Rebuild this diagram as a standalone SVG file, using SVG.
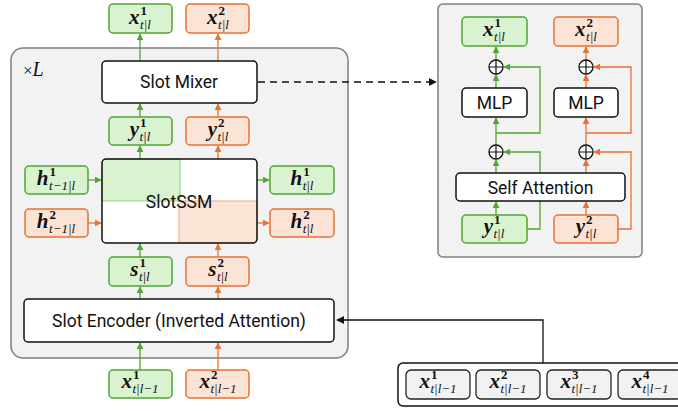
<svg xmlns="http://www.w3.org/2000/svg" width="678" height="411" viewBox="0 0 678 411">
<defs>
<style>
.g{fill:#d9f2d0;stroke:#4ea72e;stroke-width:1.5}
.o{fill:#fbe3d6;stroke:#e97132;stroke-width:1.5}
.blk{fill:#fff;stroke:#111;stroke-width:1.5}
.lbl{font-family:Roboto,"Liberation Sans",sans-serif;font-size:17.5px;fill:#111;text-anchor:middle}
.m{font-family:"Liberation Serif",serif;fill:#111;text-anchor:middle}
.mv{font-style:italic;font-weight:bold;font-size:21px}
.sup{font-size:13px;font-weight:bold}
.sub{font-size:13px;font-style:italic}
.cg{fill:none;stroke:#4ea72e;stroke-width:1.3}
.co{fill:none;stroke:#e97132;stroke-width:1.3}
.cb{fill:none;stroke:#111;stroke-width:1.3}
.pl{fill:#fff;stroke:#111;stroke-width:1.3}
.in{fill:#f2f2f2;stroke:#222;stroke-width:1.3}
</style>
<marker id="ag" viewBox="0 0 10 10" refX="9" refY="5" markerWidth="7" markerHeight="7" markerUnits="userSpaceOnUse" orient="auto"><path d="M0,0L10,5L0,10z" fill="#4ea72e"/></marker>
<marker id="ao" viewBox="0 0 10 10" refX="9" refY="5" markerWidth="7" markerHeight="7" markerUnits="userSpaceOnUse" orient="auto"><path d="M0,0L10,5L0,10z" fill="#e97132"/></marker>
<marker id="ab" viewBox="0 0 10 10" refX="9" refY="5" markerWidth="8" markerHeight="8" markerUnits="userSpaceOnUse" orient="auto"><path d="M0,0L10,5L0,10z" fill="#111"/></marker>
</defs>

<g id="layer-container">
<rect x="11" y="48" width="337" height="310" rx="12" fill="#f2f2f2" stroke="#7f7f7f" stroke-width="1.5"/>
<text x="23" y="76" font-family="Liberation Serif,serif" font-size="20" fill="#111"><tspan font-size="17">×</tspan><tspan font-style="italic">L</tspan></text>
</g>

<g id="attn-panel">
<rect x="438" y="4" width="204" height="253" rx="5" fill="#f2f2f2" stroke="#7f7f7f" stroke-width="1.5"/>
</g>

<g id="connectors">
<path class="cg" d="M140,61V34" marker-end="url(#ag)"/>
<path class="co" d="M218,61V34" marker-end="url(#ao)"/>
<path class="cg" d="M140,117V104" marker-end="url(#ag)"/>
<path class="co" d="M218,117V104" marker-end="url(#ao)"/>
<path class="cg" d="M140,159V146" marker-end="url(#ag)"/>
<path class="co" d="M218,159V146" marker-end="url(#ao)"/>
<path class="cg" d="M140,257V244" marker-end="url(#ag)"/>
<path class="co" d="M218,257V244" marker-end="url(#ao)"/>
<path class="cg" d="M140,299V287" marker-end="url(#ag)"/>
<path class="co" d="M218,299V287" marker-end="url(#ao)"/>
<path class="cg" d="M140,370V343" marker-end="url(#ag)"/>
<path class="co" d="M218,370V343" marker-end="url(#ao)"/>
<path class="cg" d="M88,180H101" marker-end="url(#ag)"/>
<path class="co" d="M88,223H101" marker-end="url(#ao)"/>
<path class="cg" d="M257,180H269" marker-end="url(#ag)"/>
<path class="co" d="M257,223H269" marker-end="url(#ao)"/>
<path class="cb" d="M258,82H436" stroke-dasharray="7,5" stroke-width="2" marker-end="url(#ab)"/>
<path class="cb" d="M543,363V320H337" marker-end="url(#ab)"/>
<path class="cg" d="M496,215V202" marker-end="url(#ag)"/>
<path class="cg" d="M496,173V160" marker-end="url(#ag)"/>
<path class="cg" d="M496,145V118" marker-end="url(#ag)"/>
<path class="cg" d="M496,88V75" marker-end="url(#ag)"/>
<path class="cg" d="M496,60V47" marker-end="url(#ag)"/>
<path class="cg" d="M527,229H540V152H504" marker-end="url(#ag)"/>
<path class="cg" d="M496,133H540V67H504" marker-end="url(#ag)"/>
<path class="co" d="M586,215V202" marker-end="url(#ao)"/>
<path class="co" d="M586,173V160" marker-end="url(#ao)"/>
<path class="co" d="M586,145V118" marker-end="url(#ao)"/>
<path class="co" d="M586,88V75" marker-end="url(#ao)"/>
<path class="co" d="M586,60V47" marker-end="url(#ao)"/>
<path class="co" d="M618,229H631V152H594" marker-end="url(#ao)"/>
<path class="co" d="M586,133H631V67H594" marker-end="url(#ao)"/>
</g>

<g id="x1-out"><rect class="g" x="109" y="4" width="63" height="29" rx="4"/>
<text class="m" x="140" y="24"><tspan class="mv">x</tspan><tspan class="sup" dx="1" dy="-9">1</tspan><tspan class="sub" dx="-7" dy="14">t|l</tspan></text></g>
<g id="x2-out"><rect class="o" x="186" y="4" width="63" height="29" rx="4"/>
<text class="m" x="218" y="24"><tspan class="mv">x</tspan><tspan class="sup" dx="1" dy="-9">2</tspan><tspan class="sub" dx="-7" dy="14">t|l</tspan></text></g>

<g id="slot-mixer"><rect class="blk" x="102" y="61" width="155" height="42" rx="4"/>
<text class="lbl" x="179" y="88">Slot Mixer</text></g>

<g id="y1"><rect class="g" x="109" y="117" width="63" height="28" rx="4"/>
<text class="m" x="140" y="136"><tspan class="mv">y</tspan><tspan class="sup" dx="1" dy="-9">1</tspan><tspan class="sub" dx="-7" dy="14">t|l</tspan></text></g>
<g id="y2"><rect class="o" x="186" y="117" width="63" height="28" rx="4"/>
<text class="m" x="218" y="136"><tspan class="mv">y</tspan><tspan class="sup" dx="1" dy="-9">2</tspan><tspan class="sub" dx="-7" dy="14">t|l</tspan></text></g>

<g id="slotssm">
<rect x="102" y="159" width="155" height="84" rx="4" fill="#fff"/>
<path d="M106,159H180V201H102V163Q102,159 106,159z" fill="#d9f2d0" stroke="#8fd27a" stroke-width="1"/>
<path d="M179,201H257V239Q257,243 253,243H179z" fill="#fbe3d6" stroke="#f2a67e" stroke-width="1"/>
<rect x="102" y="159" width="155" height="84" rx="4" fill="none" stroke="#111" stroke-width="1.5"/>
<text class="lbl" x="179" y="208">SlotSSM</text></g>

<g id="h1-prev"><rect class="g" x="25" y="166" width="63" height="28" rx="4"/>
<text class="m" x="56" y="185"><tspan class="mv">h</tspan><tspan class="sup" dx="1" dy="-9">1</tspan><tspan class="sub" dx="-7" dy="14">t−1|l</tspan></text></g>
<g id="h2-prev"><rect class="o" x="25" y="209" width="63" height="28" rx="4"/>
<text class="m" x="56" y="228"><tspan class="mv">h</tspan><tspan class="sup" dx="1" dy="-9">2</tspan><tspan class="sub" dx="-7" dy="14">t−1|l</tspan></text></g>
<g id="h1-next"><rect class="g" x="270" y="166" width="64" height="28" rx="4"/>
<text class="m" x="302" y="185"><tspan class="mv">h</tspan><tspan class="sup" dx="1" dy="-9">1</tspan><tspan class="sub" dx="-7" dy="14">t|l</tspan></text></g>
<g id="h2-next"><rect class="o" x="270" y="209" width="64" height="28" rx="4"/>
<text class="m" x="302" y="228"><tspan class="mv">h</tspan><tspan class="sup" dx="1" dy="-9">2</tspan><tspan class="sub" dx="-7" dy="14">t|l</tspan></text></g>

<g id="s1"><rect class="g" x="109" y="257" width="63" height="29" rx="4"/>
<text class="m" x="140" y="276"><tspan class="mv">s</tspan><tspan class="sup" dx="1" dy="-9">1</tspan><tspan class="sub" dx="-7" dy="14">t|l</tspan></text></g>
<g id="s2"><rect class="o" x="186" y="257" width="63" height="29" rx="4"/>
<text class="m" x="218" y="276"><tspan class="mv">s</tspan><tspan class="sup" dx="1" dy="-9">2</tspan><tspan class="sub" dx="-7" dy="14">t|l</tspan></text></g>

<g id="slot-encoder"><rect class="blk" x="24" y="299" width="310" height="43" rx="4"/>
<text class="lbl" x="179" y="327">Slot Encoder (Inverted Attention)</text></g>

<g id="x1-in"><rect class="g" x="109" y="370" width="63" height="28" rx="4"/>
<text class="m" x="140" y="388"><tspan class="mv">x</tspan><tspan class="sup" dx="1" dy="-9">1</tspan><tspan class="sub" dx="-7" dy="14">t|l−1</tspan></text></g>
<g id="x2-in"><rect class="o" x="186" y="370" width="63" height="28" rx="4"/>
<text class="m" x="218" y="388"><tspan class="mv">x</tspan><tspan class="sup" dx="1" dy="-9">2</tspan><tspan class="sub" dx="-7" dy="14">t|l−1</tspan></text></g>

<g id="input-set">
<rect x="398" y="363" width="292" height="43" rx="5" fill="#fff" stroke="#111" stroke-width="1.5"/>
<rect class="in" x="406" y="370" width="64" height="29" rx="5"/>
<text class="m" x="438" y="388"><tspan class="mv">x</tspan><tspan class="sup" dx="1" dy="-9">1</tspan><tspan class="sub" dx="-7" dy="14">t|l−1</tspan></text>
<rect class="in" x="476" y="370" width="64" height="29" rx="5"/>
<text class="m" x="508" y="388"><tspan class="mv">x</tspan><tspan class="sup" dx="1" dy="-9">2</tspan><tspan class="sub" dx="-7" dy="14">t|l−1</tspan></text>
<rect class="in" x="547" y="370" width="64" height="29" rx="5"/>
<text class="m" x="579" y="388"><tspan class="mv">x</tspan><tspan class="sup" dx="1" dy="-9">3</tspan><tspan class="sub" dx="-7" dy="14">t|l−1</tspan></text>
<rect class="in" x="618" y="370" width="64" height="29" rx="5"/>
<text class="m" x="650" y="388"><tspan class="mv">x</tspan><tspan class="sup" dx="1" dy="-9">4</tspan><tspan class="sub" dx="-7" dy="14">t|l−1</tspan></text>
</g>

<g id="p-x1"><rect class="g" x="462" y="17" width="65" height="29" rx="4"/>
<text class="m" x="494" y="36"><tspan class="mv">x</tspan><tspan class="sup" dx="1" dy="-9">1</tspan><tspan class="sub" dx="-7" dy="14">t|l</tspan></text></g>
<g id="p-x2"><rect class="o" x="554" y="17" width="64" height="29" rx="4"/>
<text class="m" x="586" y="36"><tspan class="mv">x</tspan><tspan class="sup" dx="1" dy="-9">2</tspan><tspan class="sub" dx="-7" dy="14">t|l</tspan></text></g>

<g id="p-plus1a"><circle class="pl" cx="496" cy="67" r="7"/><path d="M489,67H503M496,60V74" stroke="#111" stroke-width="1.2"/></g>
<g id="p-plus2a"><circle class="pl" cx="586" cy="67" r="7"/><path d="M579,67H593M586,60V74" stroke="#111" stroke-width="1.2"/></g>

<g id="p-mlp1"><rect class="blk" x="462" y="88" width="65" height="29" rx="4"/>
<text class="lbl" x="494.5" y="109">MLP</text></g>
<g id="p-mlp2"><rect class="blk" x="554" y="88" width="64" height="29" rx="4"/>
<text class="lbl" x="586" y="109">MLP</text></g>

<g id="p-plus1b"><circle class="pl" cx="496" cy="152" r="7"/><path d="M489,152H503M496,145V159" stroke="#111" stroke-width="1.2"/></g>
<g id="p-plus2b"><circle class="pl" cx="586" cy="152" r="7"/><path d="M579,152H593M586,145V159" stroke="#111" stroke-width="1.2"/></g>

<g id="p-self-attn"><rect class="blk" x="456" y="173" width="169" height="28" rx="4"/>
<text class="lbl" x="540.5" y="193.5">Self Attention</text></g>

<g id="p-y1"><rect class="g" x="462" y="215" width="65" height="28" rx="4"/>
<text class="m" x="494" y="233"><tspan class="mv">y</tspan><tspan class="sup" dx="1" dy="-9">1</tspan><tspan class="sub" dx="-7" dy="14">t|l</tspan></text></g>
<g id="p-y2"><rect class="o" x="554" y="215" width="64" height="28" rx="4"/>
<text class="m" x="586" y="233"><tspan class="mv">y</tspan><tspan class="sup" dx="1" dy="-9">2</tspan><tspan class="sub" dx="-7" dy="14">t|l</tspan></text></g>
</svg>
